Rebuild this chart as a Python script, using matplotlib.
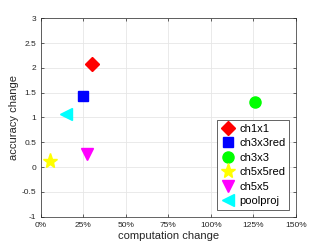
import matplotlib
matplotlib.use("Agg")
import matplotlib.pyplot as plt
from matplotlib.ticker import FuncFormatter

names = ['ch1x1', 'ch3x3red', 'ch3x3', 'ch5x5red', 'ch5x5', 'poolproj']
comp_change = [0.30, 0.25, 1.26, 0.055, 0.27, 0.145]
acc_change = [2.08, 1.43, 1.31, 0.12, 0.27, 1.08]
markers = ['D', 's', 'o', '*', 'v', '<']
colors = ['red', 'blue', '#00ff00', 'yellow', 'magenta', 'cyan']
sizes = [7, 6.5, 8, 11, 8, 9]

plt.rcParams['font.family'] = ['Liberation Sans', 'DejaVu Sans']
fig = plt.figure(figsize=(3.27, 2.45), dpi=100)
ax = fig.add_axes([0.125, 0.1155, 0.78, 0.81])

for n, x, y, m, c, s in zip(names, comp_change, acc_change, markers, colors, sizes):
    ax.plot(x, y, linestyle='none', marker=m, color=c, markersize=s, label=n)

ax.set_xlim(0, 1.5)
ax.set_ylim(-1, 3)
ax.set_xticks([0, 0.25, 0.5, 0.75, 1.0, 1.25, 1.5])
ax.set_yticks([-1, -0.5, 0, 0.5, 1, 1.5, 2, 2.5, 3])
ax.xaxis.set_major_formatter(FuncFormatter(lambda v, p: '%d%%' % round(v * 100)))
ax.yaxis.set_major_formatter(FuncFormatter(lambda v, p: '%g' % v))
ax.grid(True, color='#e6e6e6', linewidth=0.6)
ax.set_axisbelow(True)
ax.tick_params(labelsize=6, colors='#262626', length=2, width=0.5, direction='in',
               top=True, right=True)
for sp in ax.spines.values():
    sp.set_color('#262626')
    sp.set_linewidth(0.5)

ax.set_xlabel('computation change', fontsize=8, color='#262626', labelpad=2)
ax.set_ylabel('accuracy change', fontsize=8, color='#262626', labelpad=2)

leg = ax.legend(loc='lower right', fontsize=8, frameon=True, fancybox=False,
                edgecolor='#262626', handlelength=1.2, handletextpad=0.4,
                borderpad=0.35, labelspacing=0.4, borderaxespad=0.6,
                framealpha=1)
leg.get_frame().set_linewidth(0.5)

fig.savefig('out.png', dpi=100)
